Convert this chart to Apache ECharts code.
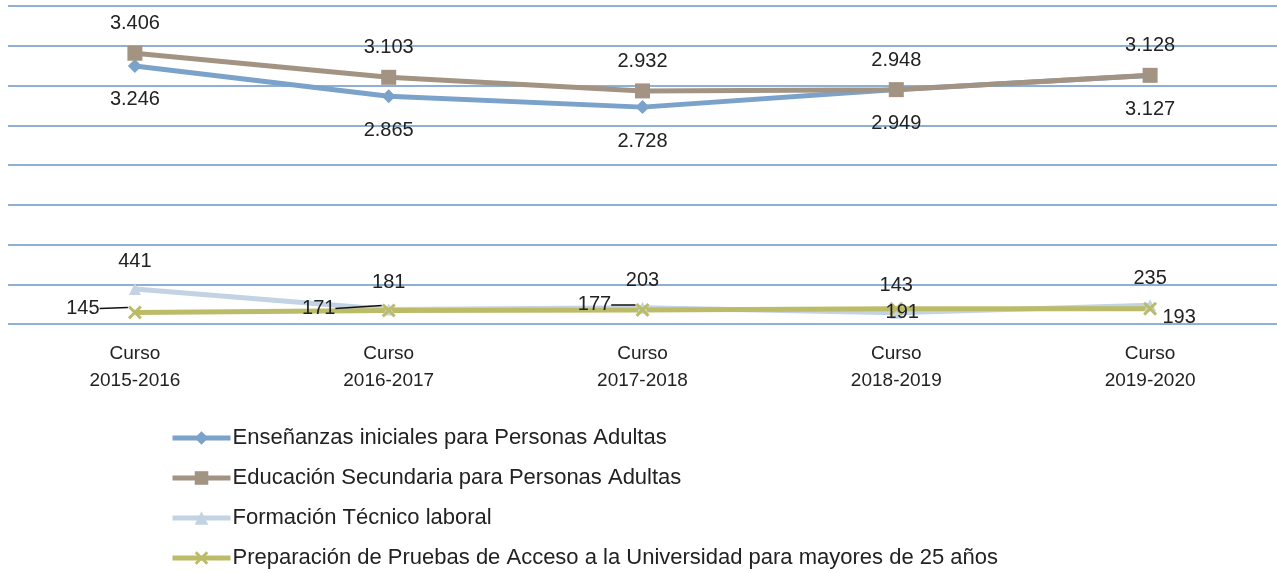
<!DOCTYPE html>
<html>
<head>
<meta charset="utf-8">
<style>
  html, body { margin: 0; padding: 0; background: #fff; }
  #main { width: 1277px; height: 573px; }
</style>
<script src="https://cdn.jsdelivr.net/npm/echarts@6/dist/echarts.min.js"></script>
</head>
<body>
<div id="main"></div>
<script type="text/javascript">
var cursos = ['Curso\n2015-2016', 'Curso\n2016-2017', 'Curso\n2017-2018', 'Curso\n2018-2019', 'Curso\n2019-2020'];

var ensenanzas = [3246, 2865, 2728, 2949, 3127];
var secundaria = [3406, 3103, 2932, 2948, 3128];
var tecnico = [441, 181, 203, 143, 235];
var pruebas = [145, 171, 177, 191, 193];

var nombres = [
    'Enseñanzas iniciales para Personas Adultas',
    'Educación Secundaria para Personas Adultas',
    'Formación Técnico laboral',
    'Preparación de Pruebas de Acceso a la Universidad para mayores de 25 años'
];

var fuente = '"Liberation Sans", Arial, sans-serif';
var crossPath = 'path://M0,1.5 L1.5,0 L5,3.5 L8.5,0 L10,1.5 L6.5,5 L10,8.5 L8.5,10 L5,6.5 L1.5,10 L0,8.5 L3.5,5 Z';

// 3406 -> "3.406"
function miles(v) {
    var s = String(v);
    return s.length > 3 ? s.slice(0, s.length - 3) + '.' + s.slice(s.length - 3) : s;
}

var etiqueta = {
    show: true,
    fontFamily: fuente,
    fontSize: 20,
    color: '#222',
    formatter: function (p) { return miles(p.value); }
};

// las tres primeras etiquetas de "Preparación" llevan línea guía
var pruebasData = pruebas.map(function (v, i) {
    return i < 3
        ? { value: v, label: { padding: [0, 8, 0, 0] }, labelLine: { show: true } }
        : { value: v };
});

var myChart = echarts.init(document.getElementById('main'));

var option = {
    backgroundColor: '#fff',
    animation: false,
    grid: { left: 8, right: 0, top: 6, bottom: 249 },
    legend: {
        orient: 'vertical',
        left: 170,
        top: 427,
        padding: 0,
        itemWidth: 58,
        itemHeight: 17,
        itemGap: 18,
        lineStyle: { width: 5 },
        textStyle: { fontFamily: fuente, fontSize: 22, color: '#222', padding: [0, 0, 0, -3] },
        data: nombres
    },
    xAxis: {
        type: 'category',
        data: cursos,
        axisLine: { show: false },
        axisTick: { show: false },
        axisLabel: {
            margin: 16,
            fontFamily: fuente,
            fontSize: 19,
            lineHeight: 27,
            color: '#222'
        }
    },
    yAxis: {
        type: 'value',
        min: 0,
        max: 4000,
        interval: 500,
        axisLabel: { show: false },
        axisLine: { show: false },
        axisTick: { show: false },
        splitLine: { lineStyle: { color: '#8fb0d2', width: 2 } }
    },
    series: [
        {
            name: nombres[0],
            type: 'line',
            data: ensenanzas,
            symbol: 'diamond',
            symbolSize: 14,
            lineStyle: { width: 5, color: '#7aa2ca' },
            itemStyle: { color: '#7aa2ca' },
            label: Object.assign({}, etiqueta, { position: 'bottom', distance: 17 })
        },
        {
            name: nombres[1],
            type: 'line',
            data: secundaria,
            symbol: 'rect',
            symbolSize: 15,
            lineStyle: { width: 5, color: '#a39383' },
            itemStyle: { color: '#a39383' },
            label: Object.assign({}, etiqueta, { position: 'top', distance: 12 })
        },
        {
            name: nombres[2],
            type: 'line',
            data: tecnico,
            symbol: 'triangle',
            symbolSize: 12,
            lineStyle: { width: 5, color: '#c3d3e3' },
            itemStyle: { color: '#c3d3e3' },
            label: Object.assign({}, etiqueta, { position: 'top', distance: 11 })
        },
        {
            name: nombres[3],
            type: 'line',
            data: pruebasData,
            symbol: crossPath,
            symbolSize: 14,
            lineStyle: { width: 5, color: '#bcbc68' },
            itemStyle: { color: '#bcbc68' },
            label: Object.assign({}, etiqueta, { position: 'inside' }),
            labelLayout: function (p) {
                var desp = [[-48, -4], [-66, -2], [-44, -5], [6, 4], [29, 9]];
                return { dx: desp[p.dataIndex][0], dy: desp[p.dataIndex][1] };
            },
            labelLine: { show: false, smooth: 0.3, lineStyle: { color: '#111', width: 1.5 } }
        }
    ]
};

myChart.setOption(option);
</script>
</body>
</html>
